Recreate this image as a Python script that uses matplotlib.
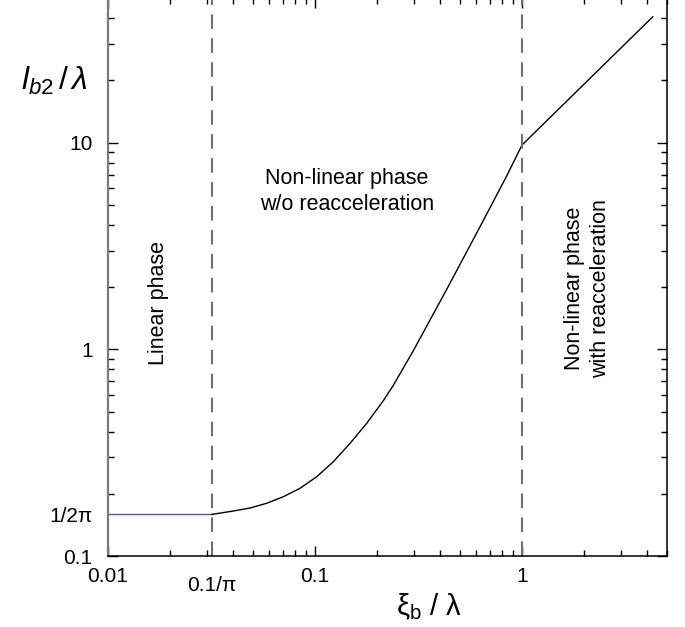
import numpy as np
import matplotlib
matplotlib.use("Agg")
import matplotlib.pyplot as plt
from matplotlib.ticker import NullFormatter, LogLocator

plt.rcParams['font.family'] = ['Liberation Sans', 'DejaVu Sans']
plt.rcParams['mathtext.fontset'] = 'custom'
plt.rcParams['mathtext.rm'] = 'Liberation Sans'
plt.rcParams['mathtext.it'] = 'Liberation Sans:italic'

# linear phase (flat at 1/2pi)
lin_x = [0.01, 0.1 / np.pi]
lin_y = [1 / (2 * np.pi), 1 / (2 * np.pi)]

# non-linear phase
nl_x = [0.0318, 0.0403, 0.0485, 0.0584, 0.0703, 0.0846, 0.1019, 0.1226,
        0.1476, 0.1777, 0.2138, 0.239, 0.2985, 0.4327, 0.6268, 0.8435,
        1.0, 4.28]
nl_y = [0.159, 0.1651, 0.1707, 0.1799, 0.1936, 0.2126, 0.2419, 0.286,
        0.3507, 0.4385, 0.5643, 0.67, 0.985, 1.95, 3.918, 6.9,
        9.74, 40.6]

xticks = [0.01, 0.1 / np.pi, 0.1, 1]
xtick_labels = ['0.01', '0.1/\u03c0', '0.1', '1']
yticks = [0.1, 1 / (2 * np.pi), 1, 10]
ytick_labels = ['0.1', '1/2\u03c0', '1', '10']
phase_edges = [0.1 / np.pi, 1.0]

fig = plt.figure(figsize=(6.85, 6.27), dpi=100)
ax = fig.add_axes([0.1577, 0.1132, 0.8156, 0.8898])

ax.plot(lin_x, lin_y, color='#4a4ae6', lw=1.0)
ax.plot(nl_x, nl_y, color='black', lw=1.0)
for xe in phase_edges:
    ax.axvline(xe, color='#707070', lw=1.5, dashes=(7, 4.5))

ax.set_xscale('log')
ax.set_yscale('log')
ax.set_xlim(0.01, 5)
ax.set_ylim(0.1, 50)

ax.set_xticks(xticks)
ax.set_xticklabels(xtick_labels)
ax.set_yticks(yticks)
ax.set_yticklabels(ytick_labels)
ax.xaxis.set_minor_locator(LogLocator(base=10, subs=np.arange(2, 10)))
ax.yaxis.set_minor_locator(LogLocator(base=10, subs=np.arange(2, 10)))
ax.xaxis.set_minor_formatter(NullFormatter())
ax.yaxis.set_minor_formatter(NullFormatter())

ax.tick_params(which='both', direction='in', top=True, right=True,
               labelsize=15, width=1.0, color='black')
ax.tick_params(which='major', length=7.2)
ax.tick_params(which='minor', length=4)
ax.tick_params(axis='x', which='major', pad=8)
ax.tick_params(axis='y', which='major', pad=11)

# special ticks: label only, no tick mark
xt = ax.xaxis.get_major_ticks()[1]
xt.tick1line.set_visible(False)
xt.tick2line.set_visible(False)
xt.set_pad(14.5)
yt = ax.yaxis.get_major_ticks()[1]
yt.tick1line.set_visible(False)
yt.tick2line.set_visible(False)

ax.spines['left'].set_color('#7a7a7a')
ax.spines['left'].set_linewidth(1.6)
for s in ['bottom', 'right', 'top']:
    ax.spines[s].set_linewidth(1.1)

ax.set_xlabel(r'$\mathrm{\xi_b\ /\ \lambda}$', fontsize=21)
ax.xaxis.set_label_coords(0.575, -0.063)
ax.text(-0.036, 0.852, r'$l_{b2}\,/\,\lambda$', transform=ax.transAxes,
        fontsize=23, ha='right', va='center')

ax.text(0.091, 0.4535, 'Linear phase', transform=ax.transAxes,
        rotation=90, fontsize=15.5, ha='center', va='center')
ax.text(0.428, 0.654, 'Non-linear phase\nw/o reacceleration',
        transform=ax.transAxes, fontsize=15.5, ha='center', va='center',
        linespacing=1.3)
ax.text(0.858, 0.479, 'Non-linear phase\nwith reacceleration',
        transform=ax.transAxes, rotation=90, fontsize=15.5, ha='center',
        va='center', linespacing=1.3)

fig.savefig('out.png', dpi=100)
